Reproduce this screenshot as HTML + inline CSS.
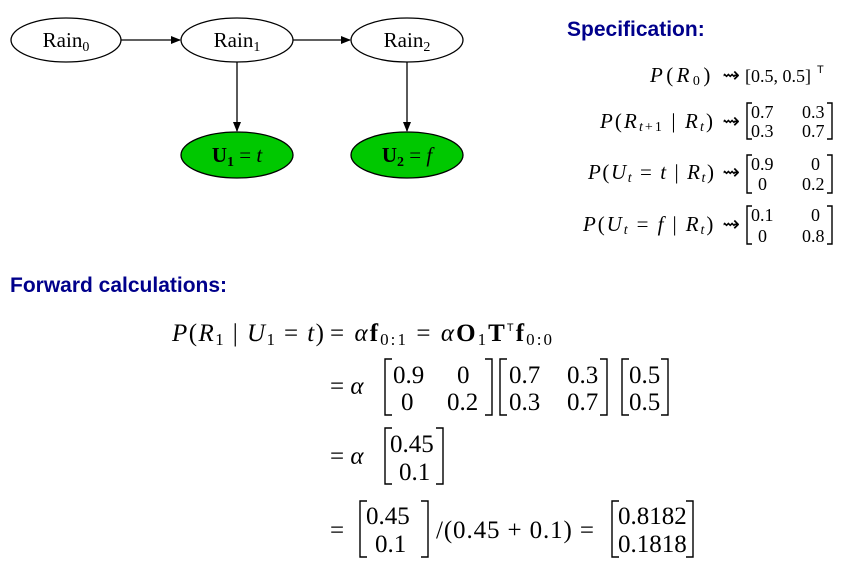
<!DOCTYPE html>
<html><head><meta charset="utf-8"><style>
body{margin:0;background:#fff;}
svg{display:block}
.s{font-family:"Liberation Serif",serif;}
.i{font-style:italic}
.h{font-family:"Liberation Sans",sans-serif;font-weight:bold;font-size:21px;fill:#00008b}
</style></head><body>
<svg width="854" height="569" viewBox="0 0 854 569" xmlns="http://www.w3.org/2000/svg">
<defs><marker id="a" markerWidth="10" markerHeight="8" refX="9" refY="4" orient="auto" markerUnits="userSpaceOnUse"><path d="M0,0 L10,4 L0,8 z" fill="#000"/></marker></defs>
<g stroke="#000" stroke-width="1.3" fill="#fff">
<ellipse cx="66" cy="40" rx="55" ry="22"/>
<ellipse cx="237" cy="40" rx="56" ry="22"/>
<ellipse cx="407" cy="40" rx="56" ry="22"/>
<ellipse cx="237" cy="155" rx="56" ry="23" fill="#00c800"/>
<ellipse cx="407" cy="155" rx="56" ry="23" fill="#00c800"/>
<line x1="121" y1="40" x2="180" y2="40" marker-end="url(#a)"/>
<line x1="293" y1="40" x2="350" y2="40" marker-end="url(#a)"/>
<line x1="237" y1="62" x2="237" y2="131" marker-end="url(#a)"/>
<line x1="407" y1="62" x2="407" y2="131" marker-end="url(#a)"/>
</g>
<g class="s" font-size="21" fill="#000" text-anchor="middle">
<text x="66" y="47">Rain<tspan font-size="14" dy="4">0</tspan></text>
<text x="237" y="47">Rain<tspan font-size="14" dy="4">1</tspan></text>
<text x="407" y="47">Rain<tspan font-size="14" dy="4">2</tspan></text>
<text x="237" y="162" font-weight="bold">U<tspan font-size="14" dy="4">1</tspan><tspan dy="-4" font-weight="normal"> = </tspan><tspan class="i" font-weight="normal">t</tspan></text>
<text x="407" y="162" font-weight="bold">U<tspan font-size="14" dy="4">2</tspan><tspan dy="-4" font-weight="normal"> = </tspan><tspan class="i" font-weight="normal">f</tspan></text>
</g>
<text class="h" x="567" y="36">Specification:</text>
<text class="h" x="10" y="292">Forward calculations:</text>

<g class="s" font-size="21" fill="#000">
<text x="650" y="82" textLength="90" lengthAdjust="spacing"><tspan class="i">P</tspan>(<tspan class="i">R</tspan><tspan font-size="14" dy="3">0</tspan><tspan dy="-3">) ⇝</tspan></text>
<text x="745" y="82" font-size="18">[0.5, 0.5]</text>
<text x="817" y="73" font-family="Liberation Sans" font-size="11">T</text>
<text x="600" y="128" textLength="140" lengthAdjust="spacing"><tspan class="i">P</tspan>(<tspan class="i">R</tspan><tspan font-size="14" dy="3" class="i">t</tspan><tspan font-size="14">+1</tspan><tspan dy="-3"> | </tspan><tspan class="i">R</tspan><tspan font-size="14" dy="3" class="i">t</tspan><tspan dy="-3">) ⇝</tspan></text>
<text x="588" y="179" textLength="152" lengthAdjust="spacing"><tspan class="i">P</tspan>(<tspan class="i">U</tspan><tspan font-size="14" dy="3" class="i">t</tspan><tspan dy="-3"> = </tspan><tspan class="i">t</tspan> | <tspan class="i">R</tspan><tspan font-size="14" dy="3" class="i">t</tspan><tspan dy="-3">) ⇝</tspan></text>
<text x="583" y="231" textLength="157" lengthAdjust="spacing"><tspan class="i">P</tspan>(<tspan class="i">U</tspan><tspan font-size="14" dy="3" class="i">t</tspan><tspan dy="-3"> = </tspan><tspan class="i">f</tspan> | <tspan class="i">R</tspan><tspan font-size="14" dy="3" class="i">t</tspan><tspan dy="-3">) ⇝</tspan></text>
</g>
<g class="s" font-size="18" fill="#000">
<text x="751" y="118">0.7</text><text x="802" y="118">0.3</text>
<text x="751" y="137">0.3</text><text x="802" y="137">0.7</text>
<text x="751" y="170">0.9</text><text x="811" y="170">0</text>
<text x="758" y="190">0</text><text x="802" y="190">0.2</text>
<text x="751" y="221">0.1</text><text x="811" y="221">0</text>
<text x="758" y="242">0</text><text x="802" y="242">0.8</text>
</g>
<g fill="none" stroke="#000" stroke-width="1.4">
<path d="M752,103 h-5 v36 h5 M827,103 h5 v36 h-5"/>
<path d="M752,155 h-5 v38 h5 M827,155 h5 v38 h-5"/>
<path d="M752,206 h-5 v38 h5 M827,206 h5 v38 h-5"/>
<path d="M392,359 h-7 v56 h7 M485,359 h7 v56 h-7"/>
<path d="M507,359 h-7 v56 h7 M600,359 h7 v56 h-7"/>
<path d="M629,359 h-7 v56 h7 M661,359 h7 v56 h-7"/>
<path d="M392,428 h-7 v56 h7 M436,428 h7 v56 h-7"/>
<path d="M367,501 h-7 v56 h7 M421,501 h7 v56 h-7"/>
<path d="M619,501 h-7 v56 h7 M686,501 h7 v56 h-7"/>
</g>
<g class="s" font-size="25" fill="#000">
<text x="172" y="341" textLength="152" lengthAdjust="spacing"><tspan class="i">P</tspan>(<tspan class="i">R</tspan><tspan font-size="17" dy="4">1</tspan><tspan dy="-4"> | </tspan><tspan class="i">U</tspan><tspan font-size="17" dy="4">1</tspan><tspan dy="-4"> = </tspan><tspan class="i">t</tspan>)</text>
<text x="330" y="341" textLength="222" lengthAdjust="spacing">= <tspan class="i">α</tspan><tspan font-weight="bold">f</tspan><tspan font-size="17" dy="4">0:1</tspan><tspan dy="-4"> = </tspan><tspan class="i">α</tspan><tspan font-weight="bold">O</tspan><tspan font-size="17" dy="4">1</tspan><tspan dy="-4" font-weight="bold">T</tspan><tspan font-family="Liberation Sans" font-size="11" dy="-10">T</tspan><tspan font-weight="bold" dy="10">f</tspan><tspan font-size="17" dy="4">0:0</tspan></text>
<text x="330" y="394">= <tspan class="i">α</tspan></text>
<text x="393" y="383">0.9</text><text x="457" y="383">0</text>
<text x="401" y="410">0</text><text x="447" y="410">0.2</text>
<text x="509" y="383">0.7</text><text x="567" y="383">0.3</text>
<text x="509" y="410">0.3</text><text x="567" y="410">0.7</text>
<text x="629" y="383">0.5</text><text x="629" y="410">0.5</text>
<text x="330" y="464">= <tspan class="i">α</tspan></text>
<text x="390" y="452">0.45</text><text x="399" y="480">0.1</text>
<text x="330" y="538">=</text>
<text x="366" y="524">0.45</text><text x="375" y="552">0.1</text>
<text x="436" y="538" textLength="158" lengthAdjust="spacing">/(0.45 + 0.1) =</text>
<text x="618" y="524">0.8182</text><text x="618" y="552">0.1818</text>
</g>
</svg>
</body></html>
